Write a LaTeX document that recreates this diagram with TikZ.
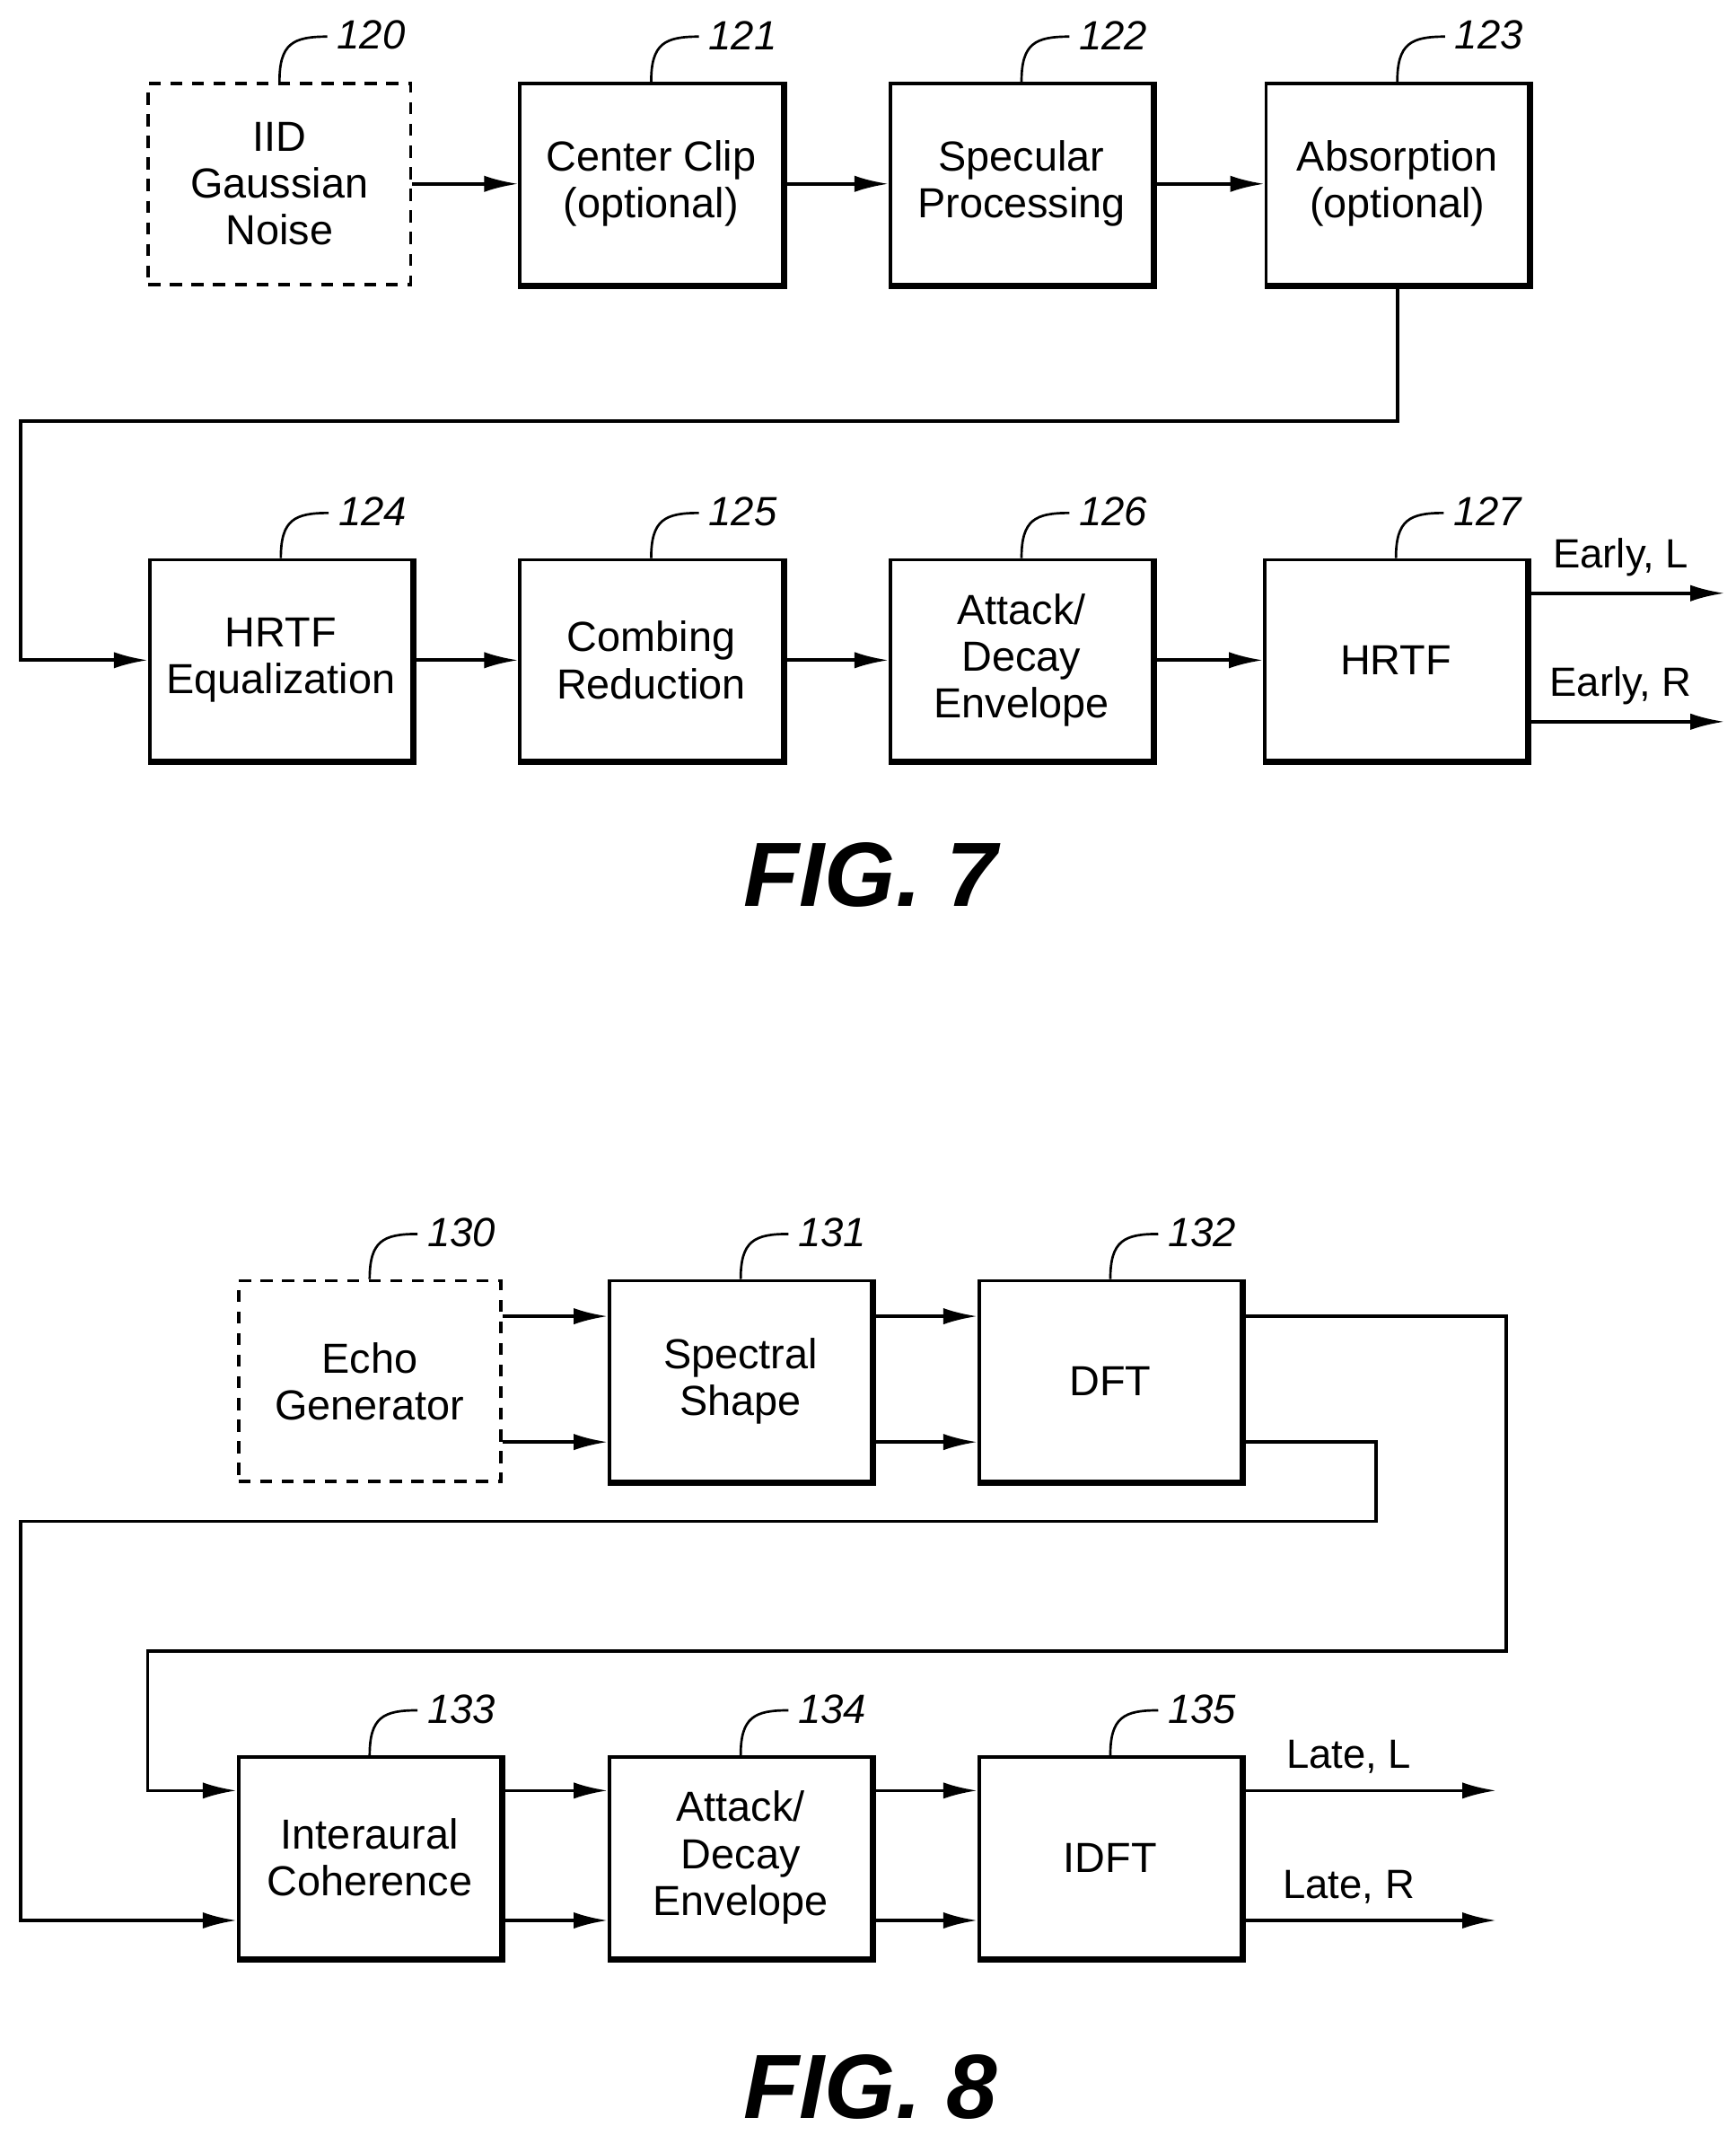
\documentclass[tikz,border=0pt]{standalone}
\usepackage{fontspec}
\setmainfont{Liberation Sans}
\usetikzlibrary{calc, arrows.meta}
\tikzset{
  blk/.style={draw, line width=1.4pt, minimum width=3.84cm, minimum height=2.94cm, align=center, font=\fontsize{17.5}{19.5}\selectfont, inner sep=0pt},
  dblk/.style={blk, dash pattern=on 5pt off 4pt},
  flow/.style={line width=1.4pt, -{Latex[length=5mm,width=2.4mm]}},
  refnum/.style={font=\fontsize{17}{19}\selectfont\itshape},
  outlbl/.style={font=\fontsize{17}{19}\selectfont, anchor=south},
  figlbl/.style={font=\fontsize{38}{42}\selectfont\bfseries\itshape}
}
\newcommand{\boxedge}[1]{\draw[line width=2.4pt] (#1.north east) -- (#1.south east) -- (#1.south west);}
\newcommand{\refmark}[2]{\draw[line width=1pt] (#1.north) .. controls ($(#1.north)+(0,-28)$) and ($(#1.north)+(10,-33)$) .. ($(#1.north)+(35,-33)$);
  \node[refnum, anchor=west] at ($(#1.north)+(36,-34)$) {#2};}
\begin{document}
\begin{tikzpicture}[x=0.02cm, y=-0.02cm]
  \useasboundingbox (0,0) rectangle (1270,1562);
  % FIG. 7
  \node[dblk] (b120) at (204.5,134.5) {IID\\Gaussian\\Noise};
  \node[blk] (b121) at (476.5,134.5) {Center Clip\\(optional)};
  \node[blk] (b122) at (747.5,134.5) {Specular\\Processing};
  \node[blk] (b123) at (1022.5,134.5) {Absorption\\(optional)};
  \node[blk] (b124) at (205.5,483) {HRTF\\Equalization};
  \node[blk] (b125) at (476.5,483) {Combing\\Reduction};
  \node[blk] (b126) at (747.5,483) {Attack/\\Decay\\Envelope};
  \node[blk] (b127) at (1021.5,483) {HRTF};
  \foreach \bx in {b121,b122,b123,b124,b125,b126,b127} {\boxedge{\bx}}
  \refmark{b120}{120} \refmark{b121}{121} \refmark{b122}{122} \refmark{b123}{123}
  \refmark{b124}{124} \refmark{b125}{125} \refmark{b126}{126} \refmark{b127}{127}

  \draw[flow] (b120) -- (b121);
  \draw[flow] (b121) -- (b122);
  \draw[flow] (b122) -- (b123);
  \draw[flow] (b123.south) |- (15,308) |- (b124.west);
  \draw[flow] (b124) -- (b125);
  \draw[flow] (b125) -- (b126);
  \draw[flow] (b126) -- (b127);
  \coordinate (eL) at (1262,434);
  \coordinate (eR) at (1262,528);
  \draw[flow] (b127.east |- eL) -- (eL);
  \draw[flow] (b127.east |- eR) -- (eR);
  \node[outlbl] (lEL) at (1186,428) {Early, L};
  \node[outlbl] (lER) at (1186,522) {Early, R};
  \node[figlbl] (fig7) at (637,640) {FIG. 7};

  % FIG. 8
  \node[dblk] (b130) at (270.5,1010.5) {Echo\\Generator};
  \node[blk] (b131) at (542,1010.5) {Spectral\\Shape};
  \node[blk] (b132) at (812.5,1010.5) {DFT};
  \node[blk] (b133) at (270.5,1359) {Interaural\\Coherence};
  \node[blk] (b134) at (542,1359) {Attack/\\Decay\\Envelope};
  \node[blk] (b135) at (812.5,1359) {IDFT};
  \foreach \bx in {b131,b132,b133,b134,b135} {\boxedge{\bx}}
  \refmark{b130}{130} \refmark{b131}{131} \refmark{b132}{132}
  \refmark{b133}{133} \refmark{b134}{134} \refmark{b135}{135}

  \coordinate (yA) at (0,963);
  \coordinate (yB) at (0,1055);
  \coordinate (yC) at (0,1310);
  \coordinate (yD) at (0,1405);
  \draw[flow] (b130.east |- yA) -- (b131.west |- yA);
  \draw[flow] (b130.east |- yB) -- (b131.west |- yB);
  \draw[flow] (b131.east |- yA) -- (b132.west |- yA);
  \draw[flow] (b131.east |- yB) -- (b132.west |- yB);
  \draw[flow] (b132.east |- yA) -| (1102,1208) -| (108,1310) -- (b133.west |- yC);
  \draw[flow] (b132.east |- yB) -| (1007,1113) -| (15,1405) -- (b133.west |- yD);
  \draw[flow] (b133.east |- yC) -- (b134.west |- yC);
  \draw[flow] (b133.east |- yD) -- (b134.west |- yD);
  \draw[flow] (b134.east |- yC) -- (b135.west |- yC);
  \draw[flow] (b134.east |- yD) -- (b135.west |- yD);
  \coordinate (lL) at (1095,1310);
  \coordinate (lR) at (1095,1405);
  \draw[flow] (b135.east |- yC) -- (lL);
  \draw[flow] (b135.east |- yD) -- (lR);
  \node[outlbl] (lLL) at (987,1304) {Late, L};
  \node[outlbl] (lLR) at (987,1399) {Late, R};
  \node[figlbl] (fig8) at (637,1527) {FIG. 8};
\end{tikzpicture}
\end{document}
